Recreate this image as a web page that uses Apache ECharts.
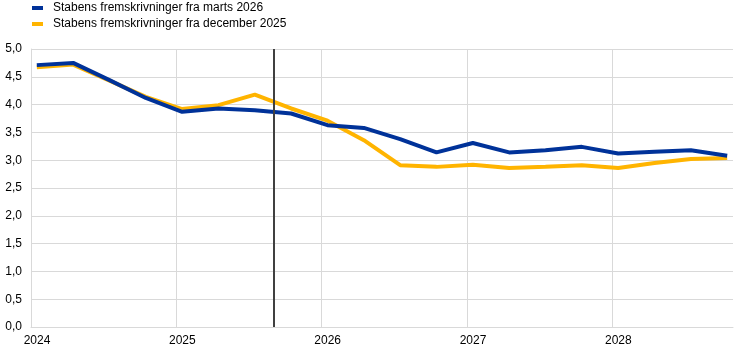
<!DOCTYPE html>
<html>
<head>
<meta charset="utf-8">
<script src="https://cdn.jsdelivr.net/npm/echarts@6/dist/echarts.min.js"></script>
<style>
html,body{margin:0;padding:0;background:#fff;}
#chart{width:744px;height:355px;}
</style>
</head>
<body>
<div id="chart"></div>
<script>
// Quarters 2024Q1 .. 2028Q4
var quarters = ['2024Q1','2024Q2','2024Q3','2024Q4','2025Q1','2025Q2','2025Q3','2025Q4',
                '2026Q1','2026Q2','2026Q3','2026Q4','2027Q1','2027Q2','2027Q3','2027Q4',
                '2028Q1','2028Q2','2028Q3','2028Q4'];
var seriesNames = ['Stabens fremskrivninger fra marts 2026', 'Stabens fremskrivninger fra december 2025'];
var march2026 = [4.71, 4.75, 4.44, 4.12, 3.87, 3.93, 3.90, 3.84, 3.63, 3.58, 3.38, 3.14, 3.31, 3.14, 3.18, 3.24, 3.12, 3.15, 3.18, 3.08];
var december2025 = [4.67, 4.72, 4.43, 4.14, 3.92, 3.99, 4.18, 3.93, 3.71, 3.36, 2.91, 2.88, 2.92, 2.86, 2.88, 2.91, 2.86, 2.95, 3.02, 3.04];
var cutoffDate = 2025.67; // vertical line
var xMin = 2024, xMax = 2028.83;
var yTicks = [0, 0.5, 1, 1.5, 2, 2.5, 3, 3.5, 4, 4.5, 5];

function qToX(q) {
  var y = parseInt(q.slice(0, 4), 10);
  var n = parseInt(q.slice(5), 10);
  return y + (n - 1) / 4 + 0.04;
}
function pairs(vals) {
  return quarters.map(function (q, i) { return [qToX(q), vals[i]]; });
}

var chart = echarts.init(document.getElementById('chart'), null, {renderer: 'canvas'});
var font = 'Arial, "Liberation Sans", sans-serif';
var grid = '#d9d9d9';
chart.setOption({
  animation: false,
  textStyle: {fontFamily: font},
  legend: {
    orient: 'vertical',
    left: 32, top: 0, padding: 0,
    itemWidth: 11, itemHeight: 4, itemGap: 0,
    icon: 'rect',
    data: [seriesNames[0], seriesNames[1]],
    textStyle: {fontSize: 12, color: '#000', fontFamily: font, lineHeight: 16, padding: [0, 0, 0, 5]}
  },
  grid: {left: 31, right: 11, top: 49, bottom: 28, containLabel: false},
  xAxis: {
    type: 'value', min: xMin, max: xMax, interval: 1,
    axisLine: {show: true, lineStyle: {color: grid, width: 1}},
    axisTick: {show: false},
    axisLabel: {
      color: '#000', fontSize: 12, fontFamily: font, margin: 8, padding: [0, 0, 0, 12],
      formatter: function (v) { return Math.abs(v - Math.round(v)) < 1e-6 ? String(Math.round(v)) : ''; }
    },
    splitLine: {show: true, lineStyle: {color: [grid, grid, grid, grid, grid, 'rgba(0,0,0,0)'], width: 1}}
  },
  yAxis: {
    type: 'value', min: yTicks[0], max: yTicks[yTicks.length - 1], interval: 0.5,
    axisLine: {show: true, lineStyle: {color: grid, width: 1}},
    axisTick: {show: false},
    axisLabel: {
      color: '#000', fontSize: 12, fontFamily: font, margin: 9,
      formatter: function (v) { return v.toFixed(1).replace('.', ','); }
    },
    splitLine: {show: true, lineStyle: {color: grid, width: 1}}
  },
  series: [
    {
      name: seriesNames[1], type: 'line', data: pairs(december2025),
      symbol: 'none', lineStyle: {color: '#FFB400', width: 4}, itemStyle: {color: '#FFB400'}, z: 2
    },
    {
      name: seriesNames[0], type: 'line', data: pairs(march2026),
      symbol: 'none', lineStyle: {color: '#003299', width: 4}, itemStyle: {color: '#003299'}, z: 3,
      markLine: {
        silent: true, symbol: ['none', 'none'], label: {show: false},
        lineStyle: {color: '#404040', width: 2, type: 'solid'},
        data: [{xAxis: cutoffDate}]
      }
    }
  ]
});
</script>
</body>
</html>
